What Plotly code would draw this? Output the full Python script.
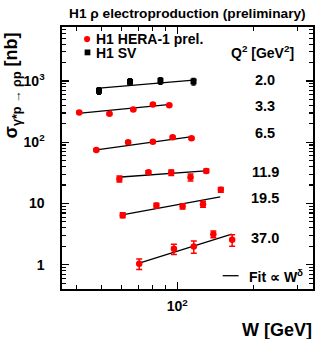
import plotly.graph_objects as go

# ---------------- data ----------------
q2_labels = ["2.0", "3.3", "6.5", "11.9", "19.5", "37.0"]

# H1 SV (Q2 = 2.0), black squares
sv_w = [49.0, 65.0, 85.8, 116.0]
sv_sigma = [690, 967, 1004, 981]
sv_err = [85, 115, 120, 120]

# H1 HERA-1 prel., red circles, one list per Q2 bin
h1_w = [
    [40.9, 53.9, 67.0, 80.1, 93.0],
    [47.8, 63.9, 80.1, 95.9, 113.9],
    [59.0, 76.9, 94.7, 112.9, 130.4],
    [60.8, 82.7, 105.0, 126.5, 148.8],
    [70.7, 97.0, 116.3, 139.0, 165.0],
]
h1_sigma = [
    [307, 291, 343, 414, 403],
    [74.6, 99.6, 101.9, 120.2, 115.8],
    [25.2, 32.4, 31.9, 26.8, 34.0],
    [6.45, 9.25, 9.03, 9.74, 16.7],
    [1.04, 1.82, 1.99, 3.16, 2.55],
]
h1_err = [
    [10, 10, 12, 14, 14],
    [3, 4, 4, 5, 5],
    [2.8, 1.8, 3.2, 3.6, 2.4],
    [0.6, 0.8, 0.9, 1.1, 1.5],
    [0.2, 0.35, 0.45, 0.4, 0.55],
]

# fit lines (power law in W): end points, one per Q2 bin
fit_w_lo = [47.8, 40.5, 47.1, 58.1, 60.5, 70.7]
fit_w_hi = [119.2, 94.2, 114.5, 133.2, 148.0, 164.4]
fit_sig_lo = [755, 296, 74.6, 26.8, 6.52, 1.066]
fit_sig_hi = [1042, 414, 123, 34.3, 12.8, 3.16]

x_major_ticks = [100]
x_major_text = ["10<sup>2</sup>"]
x_minor_ticks = [40, 50, 60, 70, 80, 90, 200, 300]
y_major_ticks = [1, 10, 100, 1000]
y_major_text = ["1", "10", "10<sup>2</sup>", "10<sup>3</sup>"]
y_minor_ticks = [m * 10 ** e for e in range(-1, 4) for m in range(2, 10)
                 if 0.4 <= m * 10 ** e <= 7600]

# ---------------- layout geometry ----------------
W, H = 321, 339
L, R, T, B = 62, 6, 27, 50
PW, PH = W - L - R, H - T - B


def px(x):
    return (x - L) / PW


def py(y):
    return 1 - (y - T) / PH


RED = "#ff0000"
FONT = "Liberation Sans, Arial, sans-serif"

fig = go.Figure()

# fit lines
for i in range(len(fit_w_lo)):
    fig.add_trace(go.Scatter(
        x=[fit_w_lo[i], fit_w_hi[i]], y=[fit_sig_lo[i], fit_sig_hi[i]],
        mode="lines", line=dict(color="black", width=1.3),
        showlegend=False, hoverinfo="skip"))

# H1 SV
fig.add_trace(go.Scatter(
    x=sv_w, y=sv_sigma, mode="markers",
    marker=dict(symbol="square", size=6, color="black"),
    error_y=dict(type="data", array=sv_err, color="black", thickness=1.5, width=2),
    showlegend=False))

# H1 HERA-1
for i in range(len(h1_w)):
    fig.add_trace(go.Scatter(
        x=h1_w[i], y=h1_sigma[i], mode="markers",
        marker=dict(symbol="circle", size=6.5, color=RED),
        error_y=dict(type="data", array=h1_err[i], color=RED, thickness=1.5, width=3),
        showlegend=False))

annotations = []


def ann(text, x, y, size, xanchor="center", yanchor="middle", **kw):
    annotations.append(dict(
        text=text, x=px(x), y=py(y), xref="paper", yref="paper",
        xanchor=xanchor, yanchor=yanchor, showarrow=False, borderpad=0,
        font=dict(family=FONT, size=size, color="black", weight="bold"), **kw))


ann("H1 \u03c1 electroproduction (preliminary)", 188, 14, 13.7)
ann("H1 HERA-1 prel.", 95.5, 39.0, 14, xanchor="left")
ann("H1 SV", 95.5, 53.4, 14, xanchor="left")
ann("Q<sup>2</sup> [GeV<sup>2</sup>]", 264, 52, 14)
label_y_px = [80, 105.7, 132.7, 172, 198.3, 237.7]
for lab, yy in zip(q2_labels, label_y_px):
    ann(lab, 267, yy, 14.5)
ann("Fit \u221d W<sup>\u03b4</sup>", 249.5, 275.5, 14, xanchor="left")
ann("W [GeV]", 315.5, 330, 18, xanchor="right")
ann("\u03c3<sub>\u03b3*p \u2192 \u03c1p</sub> [nb]", 12, 85, 18,
    xanchor="center", yanchor="middle", textangle=-90)

shapes = [
    dict(type="circle", xref="paper", yref="paper",
         x0=px(84.2), x1=px(90.4), y0=py(36), y1=py(42.2),
         fillcolor=RED, line=dict(width=0)),
    dict(type="rect", xref="paper", yref="paper",
         x0=px(84.8), x1=px(90.6), y0=py(49.5), y1=py(55.3),
         fillcolor="black", line=dict(width=0)),
    dict(type="line", xref="paper", yref="paper",
         x0=px(224), x1=px(240), y0=py(275.7), y1=py(275.7),
         line=dict(color="black", width=1.3)),
]

axis_common = dict(
    type="log", showgrid=False, zeroline=False, showline=True,
    linecolor="black", linewidth=1.6, mirror="ticks",
    ticks="inside", tickcolor="black", tickwidth=1.3,
    tickfont=dict(family=FONT, size=14, color="black", weight="bold"),
)

fig.update_layout(
    width=W, height=H,
    margin=dict(l=L, r=R, t=T, b=B),
    paper_bgcolor="white", plot_bgcolor="white",
    showlegend=False,
    annotations=annotations, shapes=shapes,
    xaxis=dict(**axis_common, range=[1.5436, 2.5377],
               tickvals=x_major_ticks, ticktext=x_major_text, ticklen=7,
               ticklabelstandoff=4,
               minor=dict(tickvals=x_minor_ticks, ticks="inside", ticklen=4,
                          tickcolor="black", tickwidth=1.1)),
    yaxis=dict(**axis_common, range=[-0.396, 3.881],
               tickvals=y_major_ticks, ticktext=y_major_text, ticklen=7,
               ticklabelstandoff=13,
               minor=dict(tickvals=y_minor_ticks, ticks="inside", ticklen=4,
                          tickcolor="black", tickwidth=1.1)),
)

fig.write_html(
    "out.html",
    config={"displayModeBar": False, "staticPlot": True},
    post_script="document.body.style.margin='0px';"
                "document.body.style.overflow='hidden';",
)
